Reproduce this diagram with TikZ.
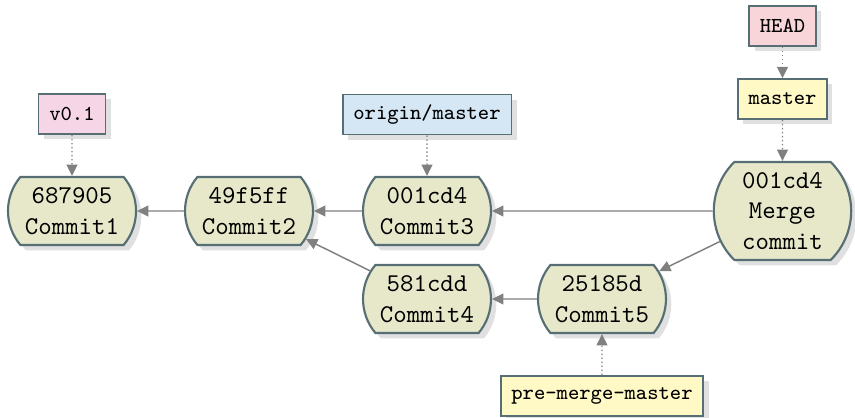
\documentclass[tikz,border=0pt]{standalone}
\usetikzlibrary{shapes.misc,shadows,arrows.meta}

\definecolor{edgegray}{HTML}{808080}
\definecolor{slate}{HTML}{586E75}
\definecolor{commitfill}{HTML}{E6E8C9}
\definecolor{tagpink}{HTML}{F6D6E6}
\definecolor{headred}{HTML}{F7D5D8}
\definecolor{remoteblue}{HTML}{D5E7F5}
\definecolor{branchyellow}{HTML}{FFF9C6}

\tikzset{
  softshadow/.style={drop shadow={shadow xshift=2pt, shadow yshift=-2pt, fill=black!12, opacity=1}},
  commit/.style={rounded rectangle, rounded rectangle arc length=80,
    draw=slate, line width=0.8pt, fill=commitfill, align=center,
    font=\fontsize{9.6}{11.5}\selectfont\ttfamily,
    minimum width=0pt, minimum height=25.5pt, inner ysep=1pt, inner xsep=4.3pt, softshadow},
  ref/.style={rectangle, draw=slate, line width=0.6pt,
    font=\fontsize{8}{9.6}\selectfont\ttfamily,
    minimum height=15pt, inner xsep=4pt, inner ysep=2pt, softshadow},
  parent/.style={draw=edgegray, line width=0.55pt, -{Triangle[length=4.2pt,width=4pt]}},
  pointer/.style={parent, dash pattern=on 0.6pt off 0.9pt},
}

\begin{document}
\begin{tikzpicture}[x=0.375pt, y=-0.375pt]
  \useasboundingbox (0,0) rectangle (855,418);

  % commits
  \node[commit] (c1) at (72,211) {687905\\Commit1};
  \node[commit] (c2) at (249,211) {49f5ff\\Commit2};
  \node[commit] (c3) at (427,211) {001cd4\\Commit3};
  \node[commit] (c4) at (427,299) {581cdd\\Commit4};
  \node[commit] (c5) at (602,299) {25185d\\Commit5};
  \node[commit, rounded rectangle arc length=91, inner xsep=1pt, minimum height=36.75pt] (m) at (782.5,211) {001cd4\\Merge\\commit};

  % refs
  \node[ref, fill=tagpink] (v01) at (72,114) {v0.1};
  \node[ref, fill=remoteblue] (om) at (427,114.5) {origin/master};
  \node[ref, fill=headred] (head) at (782.5,26) {HEAD};
  \node[ref, fill=branchyellow] (master) at (782.5,99) {master};
  \node[ref, fill=branchyellow] (pmm) at (602,396) {pre-merge-master};

  % parent links
  \draw[parent] (c2) -- (c1);
  \draw[parent] (c3) -- (c2);
  \draw[parent] (m) -- (c3);
  \draw[parent] (m) -- (c5);
  \draw[parent] (c5) -- (c4);
  \draw[parent] (c4) -- (c2);

  % ref pointers
  \draw[pointer] (v01) -- (c1);
  \draw[pointer] (om) -- (c3);
  \draw[pointer] (head) -- (master);
  \draw[pointer] (master) -- (m);
  \draw[pointer] (pmm) -- (c5);
\end{tikzpicture}
\end{document}
